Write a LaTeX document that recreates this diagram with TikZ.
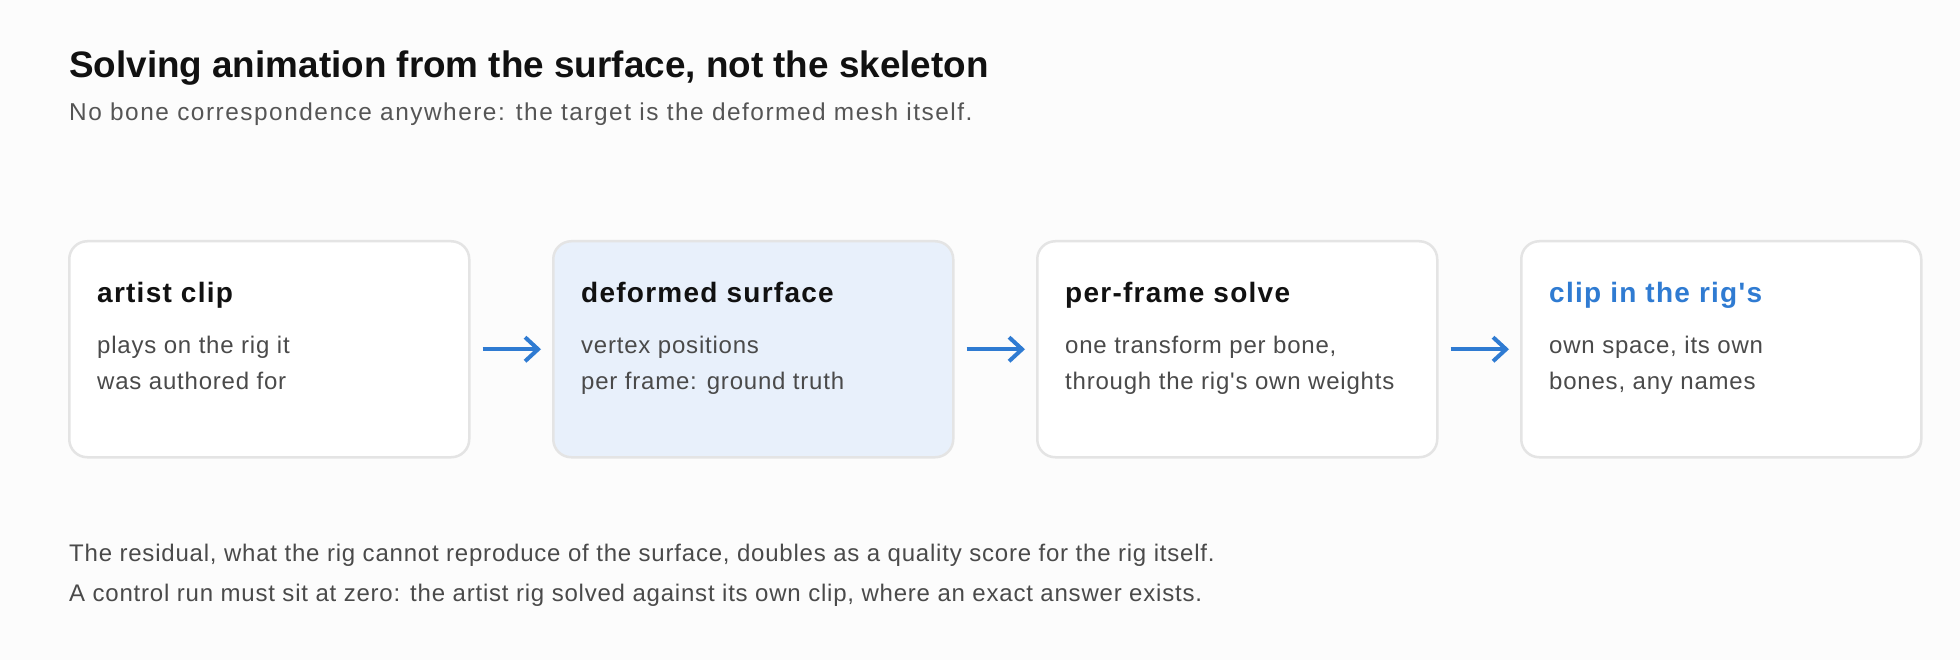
\documentclass[tikz,border=0pt]{standalone}
\usepackage{fontspec}
\setmainfont{Liberation Sans}[Ligatures=TeXOff]
\newfontfamily\bodyfont{Liberation Sans}[Ligatures=TeXOff,LetterSpace=3.3]
\newfontfamily\subfont{Liberation Sans}[Ligatures=TeXOff,LetterSpace=6.2]
\newfontfamily\headfont{Liberation Sans}[Ligatures=TeXOff,LetterSpace=4.5]
\usetikzlibrary{arrows.meta}
\definecolor{bg}{HTML}{FCFCFC}
\definecolor{bordergray}{HTML}{E4E4E4}
\definecolor{hilite}{HTML}{E8F0FB}
\definecolor{accent}{HTML}{2F7BD2}
\definecolor{bodytext}{HTML}{4A4A4A}
\definecolor{subtext}{HTML}{555555}
\definecolor{inktext}{HTML}{111111}
\tikzset{
  stagebox/.style={draw=bordergray, line width=2.5pt, rounded corners=18pt, fill=white,
    minimum width=400pt, minimum height=216pt, inner sep=0pt, anchor=north west},
  stagehead/.style={anchor=base west, inner sep=0pt, text=inktext, font=\headfont\fontsize{28}{28}\selectfont\bfseries},
  stagebody/.style={anchor=base west, inner sep=0pt, text=bodytext, font=\bodyfont\fontsize{24}{24}\selectfont},
  foottext/.style={anchor=base west, inner sep=0pt, text=bodytext, font=\bodyfont\fontsize{24}{24}\selectfont},
  flowarrow/.style={draw=accent, line width=4pt, -{Straight Barb[length=13pt,width=24pt]}},
}
\begin{document}
\begin{tikzpicture}[x=1pt,y=-1pt]
\useasboundingbox[fill=bg] (0,0) rectangle (1960,660);
\node[anchor=base west, inner sep=0pt, text=inktext, font=\fontsize{36.85}{36.85}\selectfont\bfseries] (title) at (69,78) {Solving animation from the surface, not the skeleton};
\node[anchor=base west, inner sep=0pt, text=subtext, font=\subfont\fontsize{24.4}{24.4}\selectfont] (subtitle) at (69,121) {No bone correspondence anywhere: the target is the deformed mesh itself.};

\node[stagebox] (b1) at (68,240) {};
\node[stagebox, fill=hilite] (b2) at (552,240) {};
\node[stagebox] (b3) at (1036,240) {};
\node[stagebox] (b4) at (1520,240) {};

\node[stagehead] (h1) at ([xshift=29pt,yshift=-63pt]b1.north west) {artist clip};
\node[stagehead] (h2) at ([xshift=29pt,yshift=-63pt]b2.north west) {deformed surface};
\node[stagehead] (h3) at ([xshift=29pt,yshift=-63pt]b3.north west) {per-frame solve};
\node[stagehead, text=accent] (h4) at ([xshift=29pt,yshift=-63pt]b4.north west) {clip in the rig's};

\node[stagebody] (t1a) at ([xshift=29pt,yshift=-113pt]b1.north west) {plays on the rig it};
\node[stagebody] (t1b) at ([xshift=29pt,yshift=-149pt]b1.north west) {was authored for};
\node[stagebody] (t2a) at ([xshift=29pt,yshift=-113pt]b2.north west) {vertex positions};
\node[stagebody] (t2b) at ([xshift=29pt,yshift=-149pt]b2.north west) {per frame: ground truth};
\node[stagebody] (t3a) at ([xshift=29pt,yshift=-113pt]b3.north west) {one transform per bone,};
\node[stagebody] (t3b) at ([xshift=29pt,yshift=-149pt]b3.north west) {through the rig's own weights};
\node[stagebody] (t4a) at ([xshift=29pt,yshift=-113pt]b4.north west) {own space, its own};
\node[stagebody] (t4b) at ([xshift=29pt,yshift=-149pt]b4.north west) {bones, any names};

\draw[flowarrow] ([xshift=12pt]b1.east) -- ([xshift=-11pt]b2.west);
\draw[flowarrow] ([xshift=12pt]b2.east) -- ([xshift=-11pt]b3.west);
\draw[flowarrow] ([xshift=12pt]b3.east) -- ([xshift=-11pt]b4.west);

\node[foottext] (foot1) at (69,561) {The residual, what the rig cannot reproduce of the surface, doubles as a quality score for the rig itself.};
\node[foottext] (foot2) at (69,601) {A control run must sit at zero: the artist rig solved against its own clip, where an exact answer exists.};
\end{tikzpicture}
\end{document}
